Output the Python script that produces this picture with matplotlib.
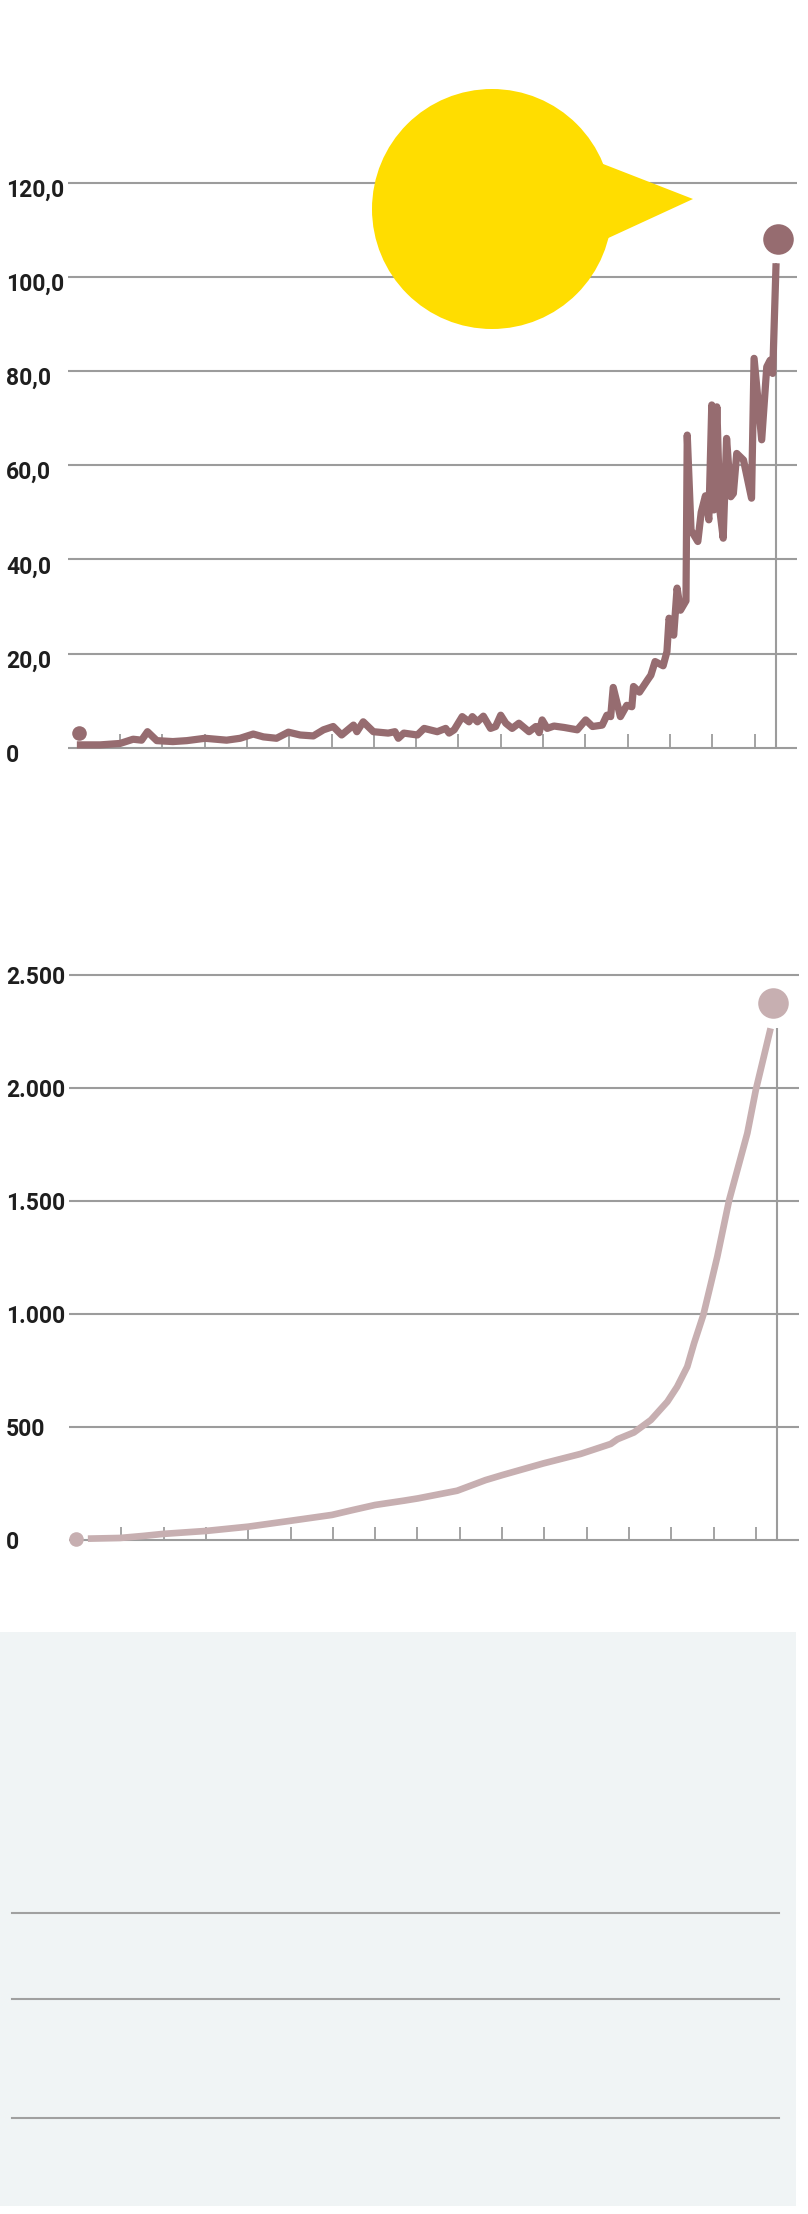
import numpy as np
import matplotlib
matplotlib.use("Agg")
import matplotlib.pyplot as plt
from matplotlib.patches import Circle, Polygon, Rectangle
from matplotlib.transforms import blended_transform_factory, offset_copy

plt.rcParams['font.family'] = ['Roboto', 'DejaVu Sans']

# top chart: price-like series (decimal year, value)
top_t = [2003.98, 2004.53, 2005.00, 2005.31, 2005.51, 2005.65, 2005.87, 2006.25, 2006.58,
         2007.01, 2007.52, 2007.84, 2008.15, 2008.39, 2008.70, 2008.98, 2009.26, 2009.57,
         2009.81, 2010.04, 2010.24, 2010.52, 2010.60, 2010.75, 2010.99, 2011.34, 2011.50,
         2011.58, 2011.71, 2012.03, 2012.19, 2012.50, 2012.70, 2012.78, 2012.90, 2013.09,
         2013.25, 2013.33, 2013.45, 2013.59, 2013.76, 2013.88, 2014.00, 2014.12, 2014.27,
         2014.43, 2014.67, 2014.83, 2014.91, 2014.98, 2015.10, 2015.26, 2015.50, 2015.81,
         2016.01, 2016.17, 2016.40, 2016.51, 2016.60, 2016.66, 2016.83, 2016.98, 2017.10,
         2017.14, 2017.28, 2017.48, 2017.55, 2017.65, 2017.84, 2017.93, 2017.98, 2018.09,
         2018.17, 2018.25, 2018.38, 2018.41, 2018.50, 2018.66, 2018.74, 2018.84, 2018.92,
         2018.99, 2019.04, 2019.11, 2019.18, 2019.26, 2019.34, 2019.44, 2019.50, 2019.58,
         2019.74, 2019.93, 2019.99, 2020.17, 2020.29, 2020.37, 2020.43, 2020.51]
top_v = [0.6, 0.6, 0.9, 1.8, 1.6, 3.4, 1.5, 1.3, 1.5,
         2.0, 1.6, 2.0, 2.9, 2.3, 2.0, 3.3, 2.7, 2.5,
         3.8, 4.5, 2.7, 4.8, 3.4, 5.5, 3.4, 3.1, 3.4,
         2.0, 3.1, 2.7, 4.1, 3.4, 4.1, 3.1, 3.8, 6.6,
         5.5, 6.6, 5.5, 6.7, 4.1, 4.5, 6.9, 5.2, 4.1,
         5.2, 3.4, 4.5, 3.2, 5.9, 4.1, 4.6, 4.3, 3.8,
         5.9, 4.5, 4.8, 6.9, 6.6, 12.8, 6.6, 9.0, 8.7,
         13.0, 11.8, 14.5, 15.4, 18.3, 17.4, 20.4, 27.5, 23.9,
         33.9, 29.2, 31.2, 66.4, 46.2, 43.8, 50.0, 53.5, 48.4,
         72.8, 50.5, 72.4, 50.5, 44.5, 65.7, 53.3, 54.0, 62.5,
         61.1, 53.0, 82.7, 65.4, 80.9, 82.3, 79.5, 102.9]
top_ticks = [0, 20, 40, 60, 80, 100, 120]
top_labels = ['0', '20,0', '40,0', '60,0', '80,0', '100,0', '120,0']
top_start = (2004.02, 3.2)
top_end_dot = (2020.55, 108.0)

# bottom chart: cumulative series
bot_t = [2004.21, 2004.97, 2005.52, 2005.99, 2007.00, 2008.00, 2009.00, 2009.98, 2010.48,
         2011.00, 2011.68, 2012.01, 2012.94, 2013.61, 2014.02, 2014.98, 2015.86, 2016.57,
         2016.73, 2017.12, 2017.52, 2017.91, 2018.14, 2018.38, 2018.54, 2018.76, 2018.93,
         2019.09, 2019.37, 2019.80, 2020.00, 2020.19, 2020.35]
bot_v = [6, 9, 18, 27, 40, 59, 85, 111, 133,
         155, 174, 184, 218, 265, 288, 339, 381, 425,
         446, 476, 531, 612, 678, 767, 870, 996, 1128,
         1254, 1504, 1800, 1991, 2139, 2264]
bot_ticks = [0, 500, 1000, 1500, 2000, 2500]
bot_labels = ['0', '500', '1.000', '1.500', '2.000', '2.500']
bot_start = (2003.93, 6)
bot_end_dot = (2020.41, 2375)

years = list(range(2005, 2021))
marker_t = 2020.5

W, H = 808, 2214
C_TOP = '#966c70'
C_BOT = '#c7afb1'
C_GRID = '#9c9c9c'
C_TEXT = '#1e1e1e'

fig = plt.figure(figsize=(W / 100, H / 100), dpi=100)


def make_axes(y_top_px, y_bot_px, x_ref_px, y0_px, px_per_unit):
    ax = fig.add_axes([0, 1 - y_bot_px / H, 1, (y_bot_px - y_top_px) / H])
    ppy = 42.3
    ax.set_xlim(2005 - x_ref_px / ppy, 2005 + (W - x_ref_px) / ppy)
    ax.set_ylim((y0_px - y_bot_px) / px_per_unit, (y0_px - y_top_px) / px_per_unit)
    ax.axis('off')
    return ax, (lambda px: 2005 + (px - x_ref_px) / ppy)


def draw_frame(ax, to_t, ticks, labels, x0, x1, tick_h, lab_off):
    ax.hlines(ticks, to_t(x0), to_t(x1), color=C_GRID, lw=1.5, zorder=1)
    ax.vlines(years, 0, tick_h, color=C_GRID, lw=1.3, zorder=1)
    tr = blended_transform_factory(fig.transFigure, ax.transData)
    tr = offset_copy(tr, fig=fig, x=0, y=-lab_off, units='dots')
    for v, s in zip(ticks, labels):
        ax.text(6 / W, v, s, transform=tr, ha='left', va='baseline',
                fontsize=16.5, fontweight='bold', color=C_TEXT)


# top chart
ax1, t1 = make_axes(60, 790, 120, 747.7, 4.708)
draw_frame(ax1, t1, top_ticks, top_labels, 68, 797, 14 / 4.708, 14)
ax1.vlines(marker_t, 0, top_v[-1], color=C_GRID, lw=1.5, zorder=1)
ax1.plot(top_t, top_v, color=C_TOP, lw=5.2, solid_joinstyle='round',
         solid_capstyle='butt', zorder=3)
ax1.plot(*top_start, 'o', ms=10.5, color=C_TOP, mec='none', zorder=4)
ax1.plot(*top_end_dot, 'o', ms=22, color=C_TOP, mec='none', zorder=4)

# bottom chart
ax2, t2 = make_axes(900, 1580, 121.3, 1540, 565 / 2500)
draw_frame(ax2, t2, bot_ticks, bot_labels, 69, 798.7, 13.3 * 2500 / 565, 9)
ax2.vlines(marker_t, 0, bot_v[-1], color=C_GRID, lw=1.5, zorder=1)
ax2.plot(bot_t, bot_v, color=C_BOT, lw=4.8, solid_joinstyle='round',
         solid_capstyle='butt', zorder=3)
ax2.plot(*bot_start, 'o', ms=10.5, color=C_BOT, mec='none', zorder=4)
ax2.plot(*bot_end_dot, 'o', ms=22, color=C_BOT, mec='none', zorder=4)

# decorations in pixel space: yellow speech bubble and grey panel
ov = fig.add_axes([0, 0, 1, 1], zorder=5)
ov.set_xlim(0, W)
ov.set_ylim(H, 0)
ov.axis('off')
ov.patch.set_alpha(0)
ov.add_patch(Circle((492, 209), 120, color='#ffdd00', lw=0))
ov.add_patch(Polygon([(598, 162), (693, 199), (604, 240)], closed=True,
                     color='#ffdd00', lw=0))
ov.add_patch(Rectangle((0, 1632), 796, 574, color='#f0f4f5', lw=0))
for y in [1913, 1999, 2118]:
    ov.plot([12, 779], [y, y], color='#a0a0a0', lw=1.5)

fig.savefig('out.png', dpi=100)
